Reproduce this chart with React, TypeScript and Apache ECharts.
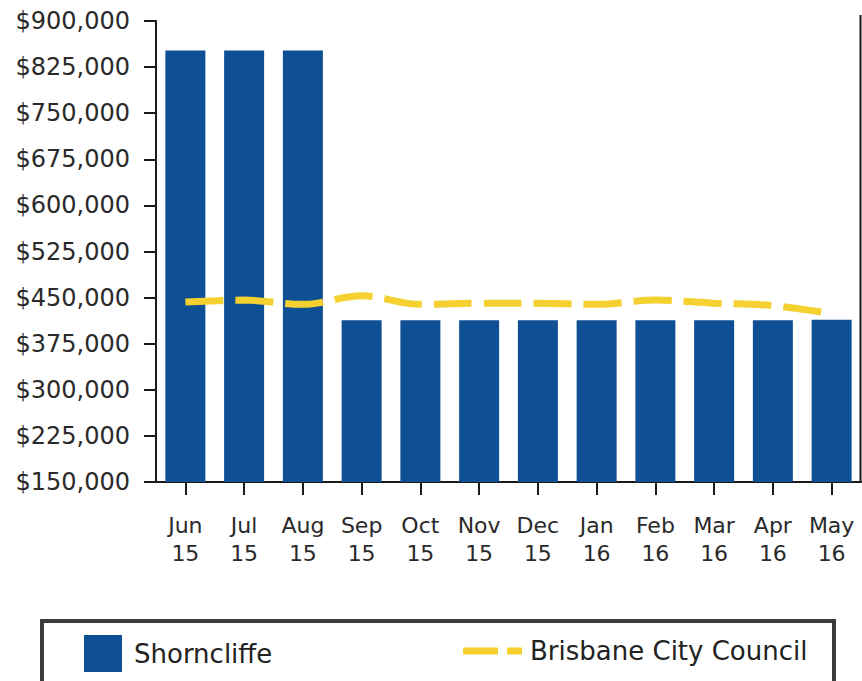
import React, { useEffect, useRef } from "react";
import * as echarts from "echarts";

const months = ["Jun", "Jul", "Aug", "Sep", "Oct", "Nov", "Dec", "Jan", "Feb", "Mar", "Apr", "May"];
const years = ["15", "15", "15", "15", "15", "15", "15", "16", "16", "16", "16", "16"];
const shorncliffe = [852000, 852000, 852000, 413000, 413000, 413000, 413000, 413000, 413000, 413000, 413000, 414000];
const brisbane = [443000, 446000, 439000, 453000, 439000, 441000, 441000, 439000, 446000, 441000, 437000, 424000];
const yMin = 150000;
const yMax = 900000;
const yStep = 75000;

const categories = months.map((m, i) => `${m} ${years[i]}`);

export default function App() {
  const ref = useRef<HTMLDivElement>(null);
  useEffect(() => {
    if (!ref.current) return;
    const chart = echarts.init(ref.current, undefined, { renderer: "svg" });
    const font = "'DejaVu Sans', Verdana, sans-serif";
    chart.setOption({
      animation: false,
      backgroundColor: "#ffffff",
      grid: { left: 156, right: 1, top: 21, bottom: 199, containLabel: false },
      xAxis: {
        type: "category",
        data: categories,
        axisLine: { show: true, lineStyle: { color: "#1a1a1a", width: 2 } },
        axisTick: { show: true, alignWithLabel: true, length: 13, lineStyle: { color: "#1a1a1a", width: 2 } },
        axisLabel: {
          margin: 29,
          fontSize: 22,
          lineHeight: 28,
          color: "#2a2a2a",
          fontFamily: font,
          interval: 0,
          formatter: (v: string) => v.replace(" ", "\n"),
        },
        splitLine: { show: false },
      },
      yAxis: {
        type: "value",
        min: yMin,
        max: yMax,
        interval: yStep,
        axisLine: { show: true, lineStyle: { color: "#1a1a1a", width: 2 } },
        axisTick: { show: true, length: 12, lineStyle: { color: "#1a1a1a", width: 2 } },
        axisLabel: {
          margin: 26,
          fontSize: 24,
          color: "#2a2a2a",
          fontFamily: font,
          formatter: (v: number) => "$" + v.toLocaleString("en-US"),
        },
        splitLine: { show: false },
      },
      legend: [
        {
          data: ["Shorncliffe"],
          left: 84,
          top: 635,
          padding: 0,
          itemWidth: 38,
          itemHeight: 37,
          icon: "rect",
          textStyle: { fontSize: 26, fontFamily: font, color: "#222", padding: [0, 0, 0, 7] },
        },
        {
          data: [
            {
              name: "Brisbane City Council",
              icon: "path://M0,0H35V7H0Z M44,0H59V7H44Z",
            },
          ],
          left: 463,
          top: 638,
          padding: 0,
          itemWidth: 59,
          itemHeight: 7,
          itemStyle: { borderWidth: 0 },
          textStyle: { fontSize: 26, fontFamily: font, color: "#222", padding: [0, 0, 0, 3] },
        },
      ],
      graphic: [
        {
          type: "rect",
          z: -1,
          shape: { x: 42, y: 621, width: 792, height: 62 },
          style: { fill: "#ffffff", stroke: "#3c3c3c", lineWidth: 4 },
        },
        {
          type: "line",
          shape: { x1: 860.5, y1: 15, x2: 860.5, y2: 483 },
          style: { stroke: "#1a1a1a", lineWidth: 2 },
        },
      ],
      series: [
        {
          name: "Shorncliffe",
          type: "bar",
          data: shorncliffe,
          barWidth: 40,
          itemStyle: { color: "#0f4f93" },
        },
        {
          name: "Brisbane City Council",
          type: "line",
          data: brisbane,
          smooth: 0.35,
          symbol: "none",
          itemStyle: { color: "#f4d130" },
          lineStyle: { color: "#f4d130", width: 7, type: [38, 12], cap: "butt" },
        },
      ],
    });
    return () => chart.dispose();
  }, []);
  return <div ref={ref} style={{ position: "absolute", left: 0, top: 0, width: 862, height: 681 }} />;
}
